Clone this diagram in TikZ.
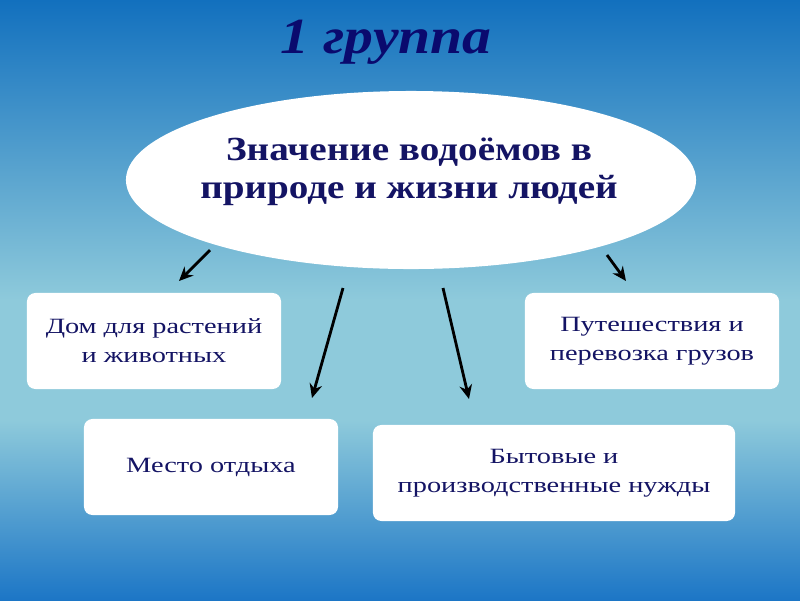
\documentclass[tikz,border=0pt]{standalone}
\usepackage{fontspec}
\setmainfont{Liberation Serif}
\newfontfamily\widefont[FakeStretch=1.3]{Liberation Serif}
\newfontfamily\headfont[FakeStretch=1.16]{Liberation Serif}
\newfontfamily\titlefont[FakeStretch=1.14]{Liberation Serif}
\usetikzlibrary{arrows.meta,shapes.geometric}
\definecolor{skytop}{RGB}{18,112,190}
\definecolor{skymid}{RGB}{142,202,219}
\definecolor{skybot}{RGB}{28,118,198}
\definecolor{navy}{RGB}{20,20,100}
\definecolor{titleblue}{RGB}{10,10,110}
\begin{document}
\begin{tikzpicture}[x=0.025cm,y=-0.025cm,
  card/.style={draw=none,fill=white,rounded corners=6pt,minimum width=6.35cm,minimum height=2.4cm,
    align=center,text=navy,font=\widefont\fontsize{15.5}{20.5}\selectfont},
  pointer/.style={-{Stealth[length=10pt,width=9pt]},line width=2pt,black}]
\useasboundingbox (0,0) rectangle (800,600);
\shade[top color=skytop,bottom color=skymid] (0,0) rectangle (800,300);
\fill[skymid] (0,299) rectangle (800,421);
\shade[top color=skymid,bottom color=skybot] (0,420) rectangle (800,600);

\node[text=titleblue,font=\titlefont\fontsize{36}{40}\selectfont\bfseries\itshape] (title) at (386,42) {1 группа};

\node[ellipse,fill=white,minimum width=14.25cm,minimum height=4.45cm] (main) at (411,180) {};
\node[align=center,text=navy,font=\headfont\fontsize{24}{27}\selectfont\bfseries] (maintext) at (409,172)
  {Значение водоёмов в\\природе и жизни людей};

\node[card] (home) at (154,341) {Дом для растений\\и животных};
\node[card] (travel) at (652,341) {Путешествия и\\перевозка грузов};
\node[card] (rest) at (211,467) {Место отдыха};
\node[card,minimum width=9.05cm] (needs) at (554,473) {Бытовые и\\производственные нужды};

\coordinate (a1) at (210,250);
\coordinate (b1) at (179,281);
\coordinate (a2) at (343,288);
\coordinate (b2) at (312,398);
\coordinate (a3) at (443,288);
\coordinate (b3) at (469,399);
\coordinate (a4) at (607,255);
\coordinate (b4) at (626,281);
\draw[pointer] (a1) -- (b1);
\draw[pointer] (a2) -- (b2);
\draw[pointer] (a3) -- (b3);
\draw[pointer] (a4) -- (b4);
\end{tikzpicture}
\end{document}
